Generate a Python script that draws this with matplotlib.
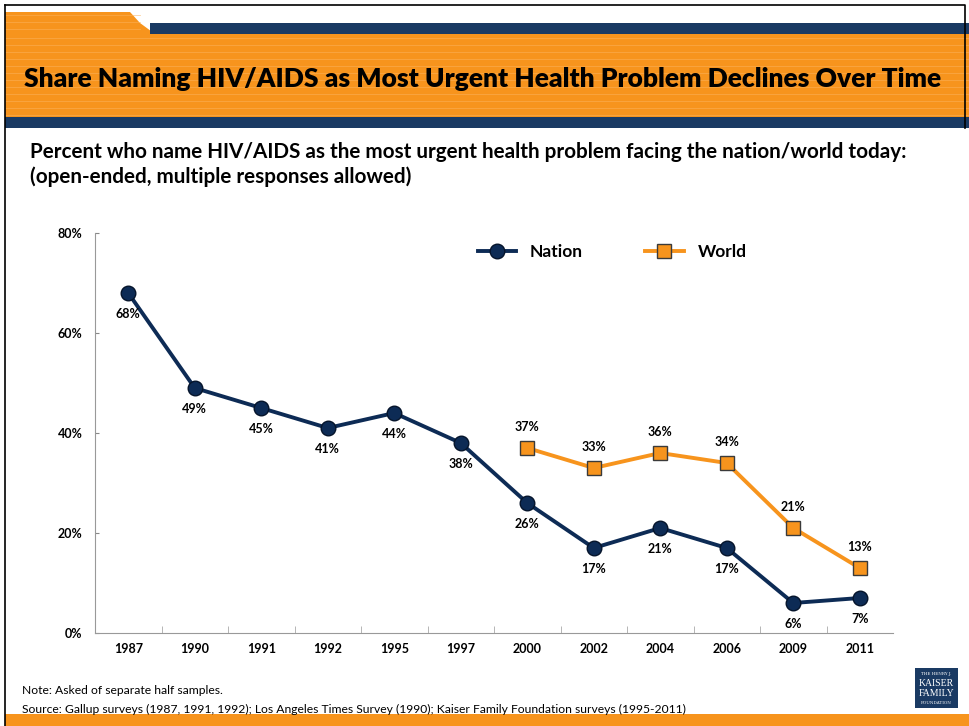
import matplotlib.pyplot as plt
from matplotlib.patches import Rectangle, Polygon

years = ['1987', '1990', '1991', '1992', '1995', '1997', '2000', '2002', '2004', '2006', '2009', '2011']
nation = [68, 49, 45, 41, 44, 38, 26, 17, 21, 17, 6, 7]
world_years = ['2000', '2002', '2004', '2006', '2009', '2011']
world = [37, 33, 36, 34, 21, 13]
yticks = [0, 20, 40, 60, 80]

NAVY = '#0d2b55'
ORANGE = '#f7941d'
BAND = '#1a3a63'
FONT = ['Lato', 'DejaVu Sans']

plt.rcParams['font.family'] = FONT

W, H = 969, 726
fig = plt.figure(figsize=(W / 100, H / 100), dpi=100)

# decoration layer in pixel coordinates
bg = fig.add_axes([0, 0, 1, 1])
bg.set_xlim(0, W)
bg.set_ylim(H, 0)
bg.axis('off')

bg.add_patch(Polygon([[5, 12], [130, 12], [140, 23], [155, 34], [5, 34]], closed=True, color=ORANGE, lw=0))
bg.add_patch(Rectangle((150, 23), W - 150, 11, color=BAND, lw=0))
bg.add_patch(Rectangle((5, 34), W - 5, 83, color=ORANGE, lw=0))
for yy in range(38, 117, 7):
    bg.plot([5, W], [yy, yy], color='#fbb35e', lw=0.6, alpha=0.6)
for yy in range(15, 34, 7):
    bg.plot([5, 140], [yy, yy], color='#fbb35e', lw=0.6, alpha=0.6)
bg.add_patch(Rectangle((5, 117), W - 5, 11, color=BAND, lw=0))
bg.add_patch(Rectangle((5, 714), W - 5, 12, color=ORANGE, lw=0))
bg.plot([5, 965, 965], [5, 5, 128], color='black', lw=1.2)
bg.plot([5, 5], [5, 726], color='black', lw=1.2)

bg.text(483, 79, 'Share Naming HIV/AIDS as Most Urgent Health Problem Declines Over Time',
        ha='center', va='center', fontsize=19, fontweight='heavy', color='black')
bg.text(30, 152, 'Percent who name HIV/AIDS as the most urgent health problem facing the nation/world today:',
        ha='left', va='center', fontsize=14.9, fontweight='bold')
bg.text(30, 177, '(open-ended, multiple responses allowed)',
        ha='left', va='center', fontsize=14.9, fontweight='bold')

bg.text(22, 691, 'Note: Asked of separate half samples.', ha='left', va='center', fontsize=8.75)
bg.text(22, 709, 'Source: Gallup surveys (1987, 1991, 1992); Los Angeles Times Survey (1990); '
        'Kaiser Family Foundation surveys (1995-2011)', ha='left', va='center', fontsize=8.75)

# logo
bg.add_patch(Rectangle((915, 668), 43, 40, color=BAND, lw=0))
bg.text(936.5, 674, 'THE HENRY J.', ha='center', va='center', fontsize=3, color='white', family='DejaVu Serif')
bg.text(936.5, 684, 'KAISER', ha='center', va='center', fontsize=7, color='white', family='Liberation Serif')
bg.text(936.5, 694, 'FAMILY', ha='center', va='center', fontsize=7, color='white', family='Liberation Serif')
bg.text(936.5, 703, 'FOUNDATION', ha='center', va='center', fontsize=3, color='white', family='DejaVu Serif')

# chart
ax = fig.add_axes([95 / W, 1 - 633 / H, 798 / W, 400 / H])
x = list(range(len(years)))
xw = [years.index(y) for y in world_years]

ax.plot(x, nation, color=NAVY, lw=2.8, marker='o', ms=10.5, mfc=NAVY, mec='#05142b', mew=1,
        label='Nation', zorder=3)
ax.plot(xw, world, color=ORANGE, lw=2.8, marker='s', ms=10.5, mfc=ORANGE, mec='#3a3a3a', mew=1,
        label='World', zorder=4)

for xi, v in zip(x, nation):
    ax.annotate(f'{v}%', (xi, v), xytext=(0, -15), textcoords='offset points',
                ha='center', va='center', fontsize=9, fontweight='bold')
for xi, v in zip(xw, world):
    ax.annotate(f'{v}%', (xi, v), xytext=(0, 15), textcoords='offset points',
                ha='center', va='center', fontsize=9, fontweight='bold')

ax.set_xlim(-0.5, len(years) - 0.5)
ax.set_ylim(0, 80)
ax.set_yticks(yticks)
ax.set_yticklabels([f'{t}%' for t in yticks], fontsize=9, fontweight='bold')
ax.set_xticks(x)
ax.set_xticklabels(years, fontsize=9, fontweight='bold')
ax.tick_params(axis='x', length=0, pad=7)
ax.tick_params(axis='y', direction='in', length=3, color='#888888', pad=9)
ax.set_xticks([i - 0.5 for i in range(1, len(years))], minor=True)
ax.tick_params(axis='x', which='minor', direction='in', length=5, color='#aaaaaa')
for s in ['top', 'right']:
    ax.spines[s].set_visible(False)
for s in ['left', 'bottom']:
    ax.spines[s].set_color('#999999')
ax.patch.set_alpha(0)

leg = ax.legend(loc='upper center', bbox_to_anchor=(0.648, 1.012), ncol=2, frameon=False,
                prop={'family': FONT, 'weight': 'bold', 'size': 12.5},
                handlelength=2.2, columnspacing=3.6, handletextpad=0.8, markerscale=1)

fig.savefig('out.png', dpi=100)
